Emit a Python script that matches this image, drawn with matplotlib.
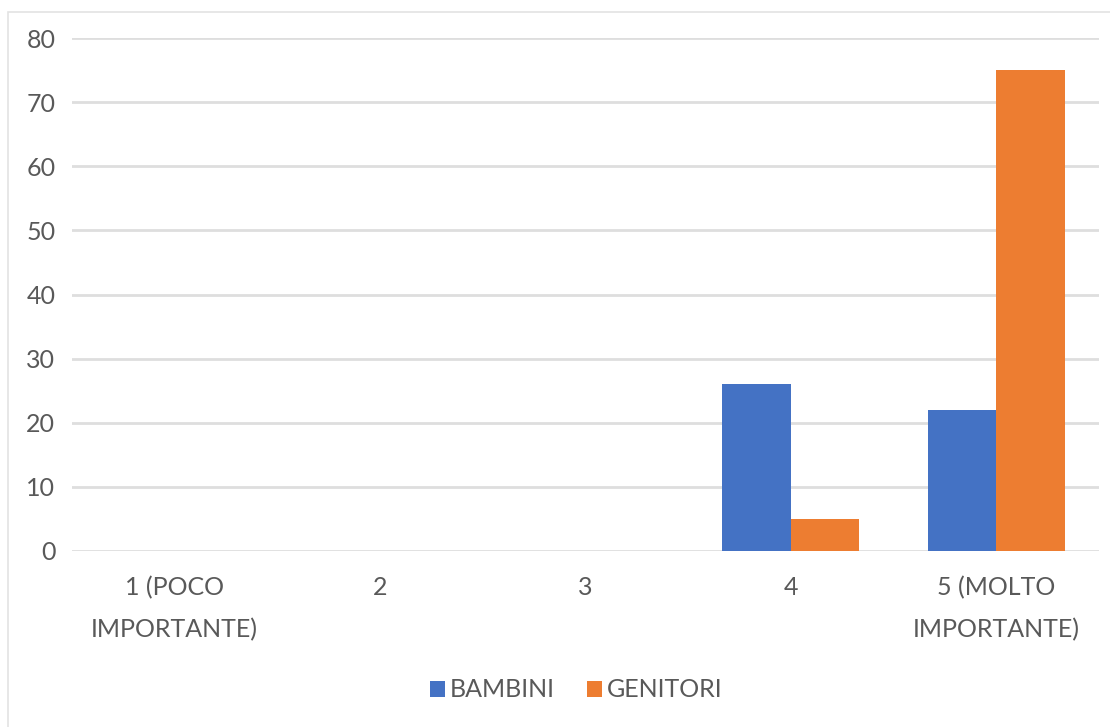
import numpy as np
from matplotlib import pyplot as plt
from matplotlib.patches import Rectangle

plt.rcParams['font.family'] = ['Lato', 'DejaVu Sans']

categories = ['1 (POCO\nIMPORTANTE)', '2', '3', '4', '5 (MOLTO\nIMPORTANTE)']
bambini = [0, 0, 0, 26, 22]
genitori = [0, 0, 0, 5, 75]
y_ticks = [0, 10, 20, 30, 40, 50, 60, 70, 80]

BLUE = '#4472C4'
ORANGE = '#ED7D31'
TEXT = '#595959'


def main():
    fig = plt.figure(figsize=(11.1, 7.27), dpi=100)
    ax = fig.add_axes([0.0649, 0.2421, 0.9252, 0.7056])

    # light frame around the chart area
    fig.patches.append(Rectangle((8 / 1110, -0.1), 1.2, 1 - 12 / 727 + 0.1,
                                 transform=fig.transFigure, fill=False,
                                 edgecolor='#e3e3e3', linewidth=1.2))

    x = np.arange(len(categories))
    w = 1 / 3
    ax.bar(x - w / 2, bambini, width=w, color=BLUE, label='BAMBINI', zorder=3)
    ax.bar(x + w / 2, genitori, width=w, color=ORANGE, label='GENITORI', zorder=3)

    ax.set_xlim(-0.5, len(categories) - 0.5)
    ax.set_ylim(0, 80)
    ax.set_yticks(y_ticks)
    ax.set_xticks(x)
    ax.set_xticklabels(categories, linespacing=1.95)
    ax.yaxis.grid(True, color='#dedede', linewidth=2, zorder=0)
    ax.tick_params(axis='both', length=0, labelsize=18, labelcolor=TEXT)
    ax.tick_params(axis='y', pad=12)
    ax.tick_params(axis='x', pad=18)
    for s in ax.spines.values():
        s.set_visible(False)

    fig.legend(loc='center', bbox_to_anchor=(0.519, 0.051), ncol=2, frameon=False,
               fontsize=18, labelcolor=TEXT, handlelength=0.6, handleheight=0.6,
               handletextpad=0.2, columnspacing=1.3)

    fig.savefig('out.png', dpi=100)


if __name__ == '__main__':
    main()
